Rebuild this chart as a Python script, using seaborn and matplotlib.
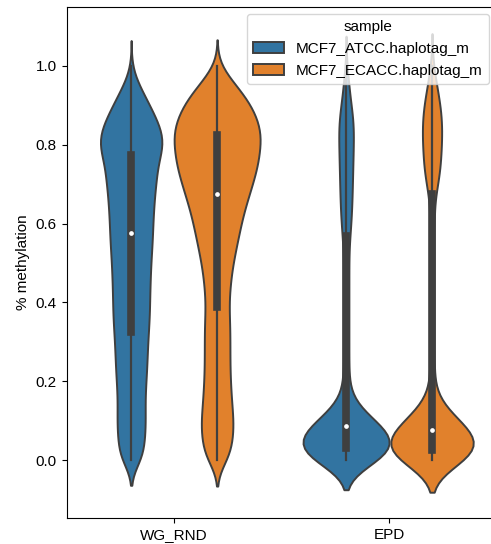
import numpy as np
import pandas as pd
import seaborn as sns
import matplotlib.pyplot as plt

plt.rcParams['font.family'] = ['Liberation Sans', 'DejaVu Sans']
plt.rcParams['font.size'] = 11

# methylation levels (bins) and number of sites per bin
levels = [0.0, 0.025, 0.05, 0.075, 0.1, 0.125, 0.15, 0.175, 0.2, 0.225,
          0.25, 0.275, 0.3, 0.325, 0.35, 0.375, 0.4, 0.425, 0.45, 0.475,
          0.5, 0.525, 0.55, 0.575, 0.6, 0.625, 0.65, 0.675, 0.7, 0.725,
          0.75, 0.775, 0.8, 0.825, 0.85, 0.875, 0.9, 0.925, 0.95, 0.975, 1.0]

atcc_wg = [22, 19, 22, 23, 23, 23, 22, 23, 24, 25,
           26, 26, 27, 28, 29, 30, 30, 30, 31, 31,
           32, 33, 34, 35, 35, 36, 37, 38, 40, 42,
           42, 48, 54, 52, 46, 38, 30, 22, 13, 5, 1]
ecacc_wg = [25, 27, 30, 32, 32, 30, 28, 27, 26, 25,
            25, 25, 25, 25, 25, 23, 23, 24, 26, 28,
            31, 35, 39, 43, 47, 51, 57, 63, 69, 75,
            80, 83, 84, 88, 83, 76, 67, 54, 38, 20, 5]
atcc_epd = [67, 71, 74, 63, 42, 21, 9, 5, 4, 4,
            4, 4, 4, 4, 4, 4, 4, 4, 4, 4,
            4, 4, 4, 6, 7, 8, 8, 9, 9, 9,
            10, 10, 10, 11, 11, 10, 7, 5, 4, 3, 1]
ecacc_epd = [69, 71, 69, 56, 40, 19, 8, 4, 3, 3,
             3, 3, 3, 3, 3, 3, 3, 3, 3, 3,
             3, 3, 3, 3, 3, 3, 3, 3, 9, 11,
             12, 12, 13, 14, 14, 13, 12, 9, 6, 4, 2]

regions = ['WG_RND', 'EPD']
samples = ['MCF7_ATCC.haplotag_m', 'MCF7_ECACC.haplotag_m']
counts = {
    ('WG_RND', samples[0]): atcc_wg,
    ('WG_RND', samples[1]): ecacc_wg,
    ('EPD', samples[0]): atcc_epd,
    ('EPD', samples[1]): ecacc_epd,
}

frames = []
for (region, sample), n in counts.items():
    frames.append(pd.DataFrame({
        'type': region,
        'sample': sample,
        'methylation': np.repeat(levels, n),
    }))
df = pd.concat(frames, ignore_index=True)

fig = plt.figure(figsize=(4.91, 5.44), dpi=100)
ax = fig.add_axes([0.1358, 0.0478, 0.8754, 0.9399])

# scale the violins within each region (like the old scale_hue behaviour)
for i, region in enumerate(regions):
    sns.violinplot(data=df[df['type'] == region], x='type', y='methylation',
                   hue='sample', order=regions, hue_order=samples,
                   density_norm='count', common_norm=True, bw_method=0.12,
                   linewidth=1.4, inner='box',
                   inner_kws=dict(box_width=5.5, whis_width=1.6, marker='.'),
                   legend=(i == 0), ax=ax)

ax.set_ylim(-0.147, 1.15)
ax.set_xlim(-0.5, 1.5)
ax.set_yticks([0.0, 0.2, 0.4, 0.6, 0.8, 1.0])
ax.set_ylabel('% methylation')
ax.set_xlabel('')
sns.move_legend(ax, 'upper right', title='sample', fontsize=11, title_fontsize=11)

fig.savefig('out.png', dpi=100)
